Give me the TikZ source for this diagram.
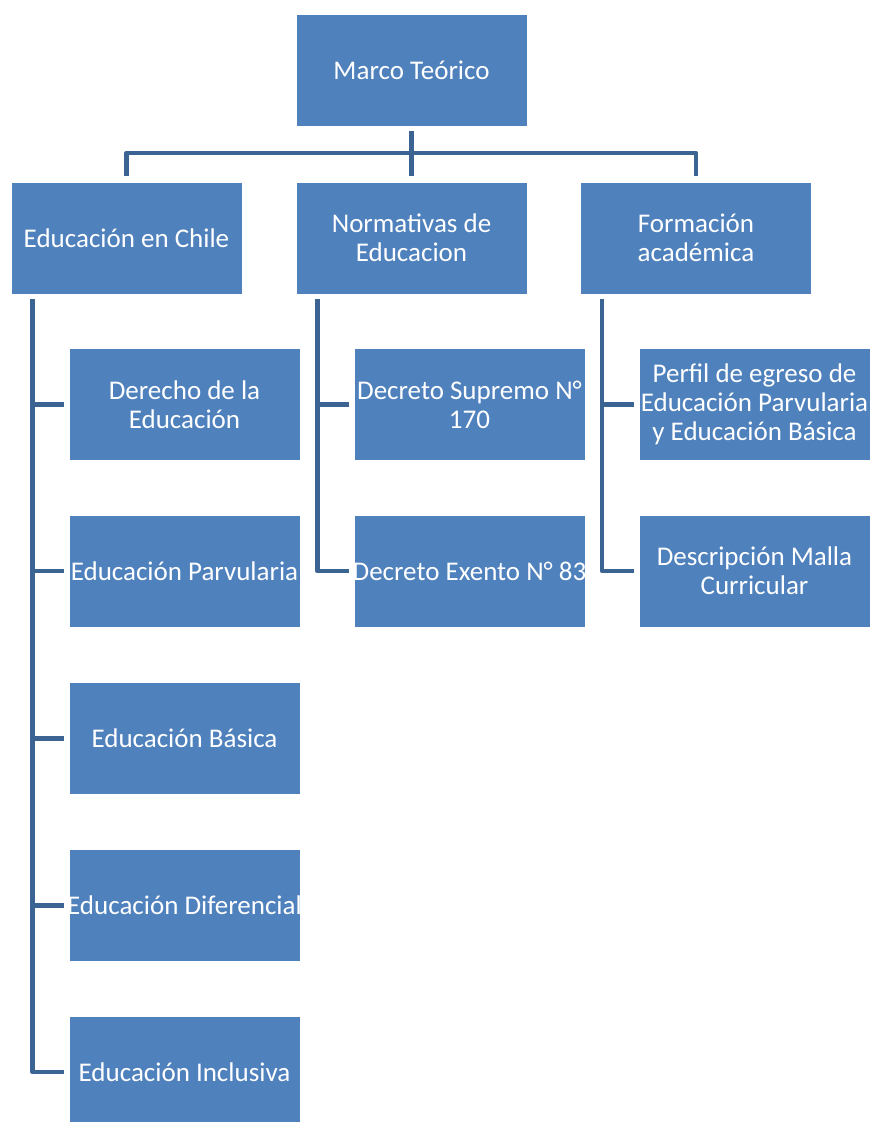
\documentclass[tikz,border=0pt]{standalone}
\usepackage{fontspec}
\setmainfont{Carlito}
\usetikzlibrary{calc}
\definecolor{boxblue}{HTML}{4F81BD}
\definecolor{lineblue}{HTML}{3B6493}
\tikzset{
  tema/.style={rectangle, fill=boxblue, draw=white, line width=0.4pt,
    minimum width=115.5pt, minimum height=56pt, inner sep=0pt,
    text=white, align=center, font=\fontsize{13.5}{14.5}\selectfont},
  conn/.style={draw=lineblue, line width=2.25pt, line join=round}
}

\begin{document}
\begin{tikzpicture}[x=0.5pt, y=-0.5pt]
%%% marco teorico %%%
\useasboundingbox (0,0) rectangle (871,1122);

      \node[tema] (marco) at (411.5,70) {Marco Teórico};
      %%
      \node[tema] (chile)  at (126.5,238) {Educación en Chile};
      \node[tema] (norma)  at (411.5,238) {Normativas de\\ Educacion};
      \node[tema] (formac) at (696,238)   {Formación\\ académica};
      %% educacion en chile
      \node[tema] (derecho) at (184.5,404.5) {Derecho de la\\ Educación};
      \node[tema] (parvu)   at (184.5,571)   {\makebox[0pt]{Educación Parvularia}};
      \node[tema] (basica)  at (184.5,738.5) {Educación Básica};
      \node[tema] (difer)   at (184.5,905.5) {\makebox[0pt]{Educación Diferencial}};
      \node[tema] (inclu)   at (184.5,1072)  {Educación Inclusiva};
      %% normativas
      \node[tema] (supremo) at (469.5,404.5) {\makebox[0pt]{Decreto Supremo N°}\\ 170};
      \node[tema] (exento)  at (469.5,571)   {\makebox[0pt]{Decreto Exento N° 83}};
      %% formacion
      \node[tema] (perfil) at (754.5,404.5) {Perfil de egreso de\\ \makebox[0pt]{Educación Parvularia}\\ y Educación Básica};
      \node[tema] (malla)  at (754.5,571)   {Descripción Malla\\ Curricular};

      %% connectors, top level
      \coordinate (bus) at (411.5,153);
      \draw[conn] ([yshift=-2.5pt]marco.south) -- ([yshift=3pt]norma.north);
      \draw[conn] ([yshift=3pt]chile.north) |- (bus) -| ([yshift=3pt]formac.north);

      %% connectors, children
      \coordinate (chile-spine)  at ([xshift=11pt,yshift=-2.5pt]chile.south west);
      \coordinate (norma-spine)  at ([xshift=11pt,yshift=-2.5pt]norma.south west);
      \coordinate (formac-spine) at ([xshift=11pt,yshift=-2.5pt]formac.south west);
      \draw[conn] (chile-spine) |- ([xshift=-2.5pt]inclu.west);
      \foreach \c in {derecho,parvu,basica,difer}
        \draw[conn] (chile-spine |- \c.west) -- ([xshift=-2.5pt]\c.west);
      \draw[conn] (norma-spine) |- ([xshift=-2.5pt]exento.west);
      \draw[conn] (norma-spine |- supremo.west) -- ([xshift=-2.5pt]supremo.west);
      \draw[conn] (formac-spine) |- ([xshift=-2.5pt]malla.west);
      \draw[conn] (formac-spine |- perfil.west) -- ([xshift=-2.5pt]perfil.west);

\end{tikzpicture}
\end{document}
